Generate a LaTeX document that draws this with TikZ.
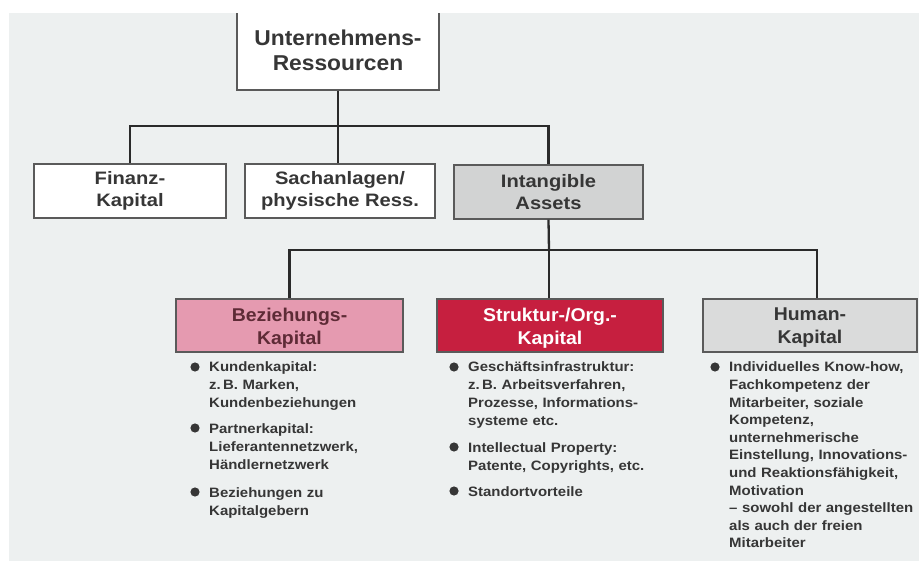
\documentclass[tikz,border=0pt]{standalone}
\usepackage{fontspec}
\setmainfont{Liberation Sans}
\newfontfamily\ftop{Liberation Sans}[FakeStretch=1.06]
\newfontfamily\fmid{Liberation Sans}[FakeStretch=1.12]
\newfontfamily\flow{Liberation Sans}[FakeStretch=1.05]
\newfontfamily\flist{Liberation Sans}[FakeStretch=1.1]
\definecolor{bgc}{HTML}{EDF0F0}
\definecolor{linec}{HTML}{2A2A2A}
\definecolor{boxc}{HTML}{5A5A5A}
\definecolor{txtc}{HTML}{363636}
\definecolor{listc}{HTML}{363636}
\definecolor{pinkc}{HTML}{E59AB0}
\definecolor{pinktxt}{HTML}{5E2B36}
\definecolor{redc}{HTML}{C61F3F}
\definecolor{greyA}{HTML}{D2D3D3}
\definecolor{greyH}{HTML}{DADBDB}
\tikzset{
  box/.style={draw=boxc, line width=1.4pt, inner sep=0pt, align=center, text=txtc},
  topbox/.style={box, fill=white, font=\ftop\bfseries\fontsize{21.5}{25}\selectfont},
  midbox/.style={box, minimum height=54pt, font=\fmid\bfseries\fontsize{18}{22}\selectfont},
  lowbox/.style={box, minimum height=53pt},
  lowtext/.style={inner sep=0pt, align=center, text=txtc, font=\flow\bfseries\fontsize{18.5}{23}\selectfont},
  conn/.style={draw=linec, line width=2.3pt},
  listitem/.style={anchor=base west, inner sep=0pt, text width=200pt, align=left,
    text=listc, font=\flist\bfseries\fontsize{13.6}{18}\selectfont},
  bul/.style={fill=listc}
}
\begin{document}
\begin{tikzpicture}[x=1pt,y=-1pt]
\useasboundingbox (0,0) rectangle (919,561);
\fill[white] (0,0) rectangle (919,561);
\fill[bgc] (9,13) rectangle (919,561);

% level 1
\node[topbox, minimum width=202pt, minimum height=79pt] (ur) at (338,50.5) {Unternehmens-\\Ressourcen};
\fill[white] (0,0) rectangle (919,13);

% level 2
\node[midbox, fill=white, minimum width=192pt] (fk) at (130,191) {Finanz-\\Kapital};
\node[midbox, fill=white, minimum width=190pt] (sa) at (340,191) {Sachanlagen/\\physische Ress.};
\node[midbox, fill=greyA, minimum width=189pt] (ia) at (548.5,192) {Intangible\\Assets};

% level 3
\node[lowbox, fill=pinkc, minimum width=227pt] (bk) at (289.5,325.5) {};
\node[lowbox, fill=redc, minimum width=226pt] (sk) at (550,325.5) {};
\node[lowbox, fill=greyH, minimum width=214pt] (hk) at (810,325.5) {};
\node[lowtext, text=pinktxt] (bkt) at ([yshift=-2.5pt]bk.center) {Beziehungs-\\Kapital};
\node[lowtext, text=white] (skt) at ([yshift=-2.5pt]sk.center) {Struktur-/Org.-\\Kapital};
\node[lowtext] (hkt) at ([yshift=-2.5pt]hk.center) {Human-\\Kapital};

% connectors
\coordinate (j1) at (338,126);
\coordinate (j2) at (549,250);
\coordinate (hkin) at (817,298.5);
\draw[conn] (ur.south) -- (j1);
\draw[conn] (fk.north) |- (j1) -| (ia.north);
\draw[conn] (j1) -- (j1 |- sa.north);
\draw[conn] (ia.south) -- (j2);
\draw[conn] (bk.north) |- (j2) -| (hkin);
\draw[conn] (j2) -- (j2 |- sk.north);

% lists
\node[listitem] (b1) at (209,372) {Kundenkapital:\\z.\,B. Marken,\\Kundenbeziehungen};
\node[listitem] (b2) at (209,433) {Partnerkapital:\\Lieferantennetzwerk,\\Händlernetzwerk};
\node[listitem] (b3) at (209,497) {Beziehungen zu\\Kapitalgebern};
\fill[bul] (195,367) circle (4.6);
\fill[bul] (195,428) circle (4.6);
\fill[bul] (195,492) circle (4.6);

\node[listitem] (s1) at (468,372) {Geschäftsinfrastruktur:\\z.\,B. Arbeitsverfahren,\\Prozesse, Informations-\\systeme etc.};
\node[listitem] (s2) at (468,452) {Intellectual Property:\\Patente, Copyrights, etc.};
\node[listitem] (s3) at (468,496) {Standortvorteile};
\fill[bul] (454,367) circle (4.6);
\fill[bul] (454,447) circle (4.6);
\fill[bul] (454,491) circle (4.6);

\node[listitem, font=\flist\bfseries\fontsize{13.6}{17.6}\selectfont] (h1) at (729,372) {Individuelles Know-how,\\Fachkompetenz der\\Mitarbeiter, soziale\\Kompetenz,\\unternehmerische\\Einstellung, Innovations-\\und Reaktionsfähigkeit,\\Motivation\\– sowohl der angestellten\\als auch der freien\\Mitarbeiter};
\fill[bul] (715,367) circle (4.6);
\end{tikzpicture}
\end{document}
